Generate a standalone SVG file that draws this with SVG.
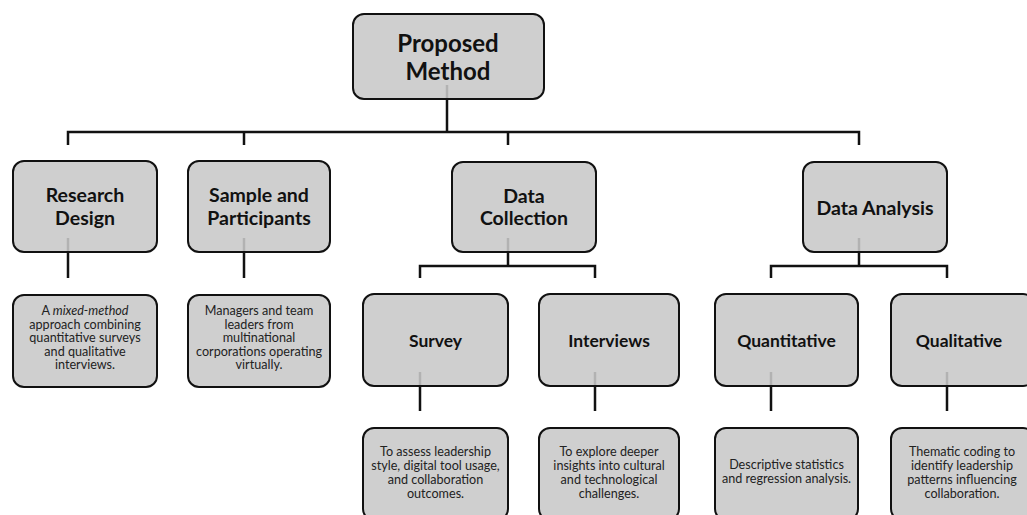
<svg xmlns="http://www.w3.org/2000/svg" width="1027" height="515" viewBox="0 0 1027 515">
<style>
.box{fill:#cfcfcf;stroke:#111;stroke-width:2}
.t1{font-family:Lato,"Liberation Sans",sans-serif;font-weight:bold;font-size:24px;fill:#111;text-anchor:middle}
.t2{font-family:Lato,"Liberation Sans",sans-serif;font-weight:bold;font-size:19.5px;fill:#111;text-anchor:middle}
.t3{font-family:Lato,"Liberation Sans",sans-serif;font-weight:bold;font-size:17.5px;fill:#111;text-anchor:middle}
.d{font-family:Lato,"Liberation Sans",sans-serif;font-size:12.6px;fill:#222;text-anchor:middle}
.c{fill:none;stroke:#111;stroke-width:2.5}
.g{fill:none;stroke:#b2b2b2;stroke-width:2.5}
</style>
<rect width="1027" height="515" fill="#fff"/>
<g id="root"><rect class="box" x="353" y="14" width="191" height="85" rx="11"/>
<text class="t1" x="448" y="52">Proposed</text><text class="t1" x="448" y="80">Method</text></g>
<g id="research-design"><rect class="box" x="13" y="161" width="144" height="91" rx="11"/>
<text class="t2" x="85" y="202">Research</text><text class="t2" x="85" y="225">Design</text></g>
<g id="sample"><rect class="box" x="188" y="161" width="142" height="91" rx="11"/>
<text class="t2" x="259" y="202">Sample and</text><text class="t2" x="259" y="225">Participants</text></g>
<g id="data-collection"><rect class="box" x="452" y="162" width="144" height="90" rx="11"/>
<text class="t2" x="524" y="203">Data</text><text class="t2" x="524" y="225">Collection</text></g>
<g id="data-analysis"><rect class="box" x="803" y="162" width="144" height="90" rx="11"/>
<text class="t2" x="875" y="215">Data Analysis</text></g>
<g id="research-desc"><rect class="box" x="13" y="295" width="144" height="92" rx="11"/>
<text class="d" x="85" y="315">A <tspan font-style="italic">mixed-method</tspan></text>
<text class="d" x="85" y="328.5">approach combining</text>
<text class="d" x="85" y="342">quantitative surveys</text>
<text class="d" x="85" y="355.5">and qualitative</text>
<text class="d" x="85" y="369">interviews.</text></g>
<g id="sample-desc"><rect class="box" x="188" y="295" width="142" height="92" rx="11"/>
<text class="d" x="259" y="315">Managers and team</text>
<text class="d" x="259" y="328.5">leaders from</text>
<text class="d" x="259" y="342">multinational</text>
<text class="d" x="259" y="355.5">corporations operating</text>
<text class="d" x="259" y="369">virtually.</text></g>
<g id="survey"><rect class="box" x="363" y="294" width="145" height="92" rx="11"/>
<text class="t3" x="435.5" y="347">Survey</text></g>
<g id="interviews"><rect class="box" x="539" y="294" width="140" height="92" rx="11"/>
<text class="t3" x="609" y="347">Interviews</text></g>
<g id="quantitative"><rect class="box" x="715" y="294" width="143" height="92" rx="11"/>
<text class="t3" x="786.5" y="347">Quantitative</text></g>
<g id="qualitative"><rect class="box" x="891" y="294" width="143" height="92" rx="11"/>
<text class="t3" x="959" y="347">Qualitative</text></g>
<g id="survey-desc"><rect class="box" x="363" y="428" width="145" height="92" rx="11"/>
<text class="d" x="435.5" y="456">To assess leadership</text>
<text class="d" x="435.5" y="470">style, digital tool usage,</text>
<text class="d" x="435.5" y="484">and collaboration</text>
<text class="d" x="435.5" y="497.5">outcomes.</text></g>
<g id="interviews-desc"><rect class="box" x="539" y="428" width="140" height="92" rx="11"/>
<text class="d" x="609" y="456">To explore deeper</text>
<text class="d" x="609" y="470">insights into cultural</text>
<text class="d" x="609" y="484">and technological</text>
<text class="d" x="609" y="497.5">challenges.</text></g>
<g id="quantitative-desc"><rect class="box" x="715" y="428" width="143" height="92" rx="11"/>
<text class="d" x="786.5" y="469">Descriptive statistics</text>
<text class="d" x="786.5" y="482.5">and regression analysis.</text></g>
<g id="qualitative-desc"><rect class="box" x="891" y="428" width="143" height="92" rx="11"/>
<text class="d" x="962" y="456">Thematic coding to</text>
<text class="d" x="962" y="470">identify leadership</text>
<text class="d" x="962" y="484">patterns influencing</text>
<text class="d" x="962" y="497.5">collaboration.</text></g>
<g id="connectors">
<path class="c" d="M447 99V132M68 145V132H859V145M244 132V145M508 132V145"/>
<path class="c" d="M68 252V278M244 252V278"/>
<path class="c" d="M508 252V266M420 278V266H595V278M420 386V411M595 386V411"/>
<path class="c" d="M859 252V266M771 278V266H947V278M771 386V411M947 386V411"/>
<path class="g" d="M447 85V98M68 238V251M244 238V251M508 238V251M859 238V251M420 372V385M595 372V385M771 372V385M947 372V385"/>
</g>
</svg>
